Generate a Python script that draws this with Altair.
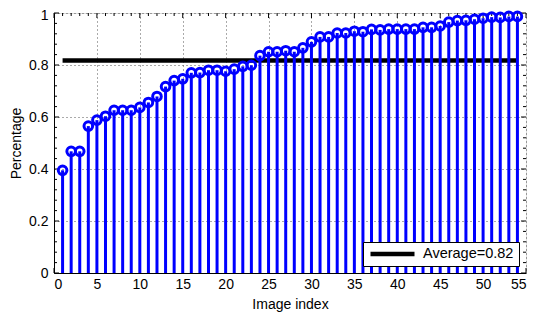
import altair as alt
import pandas as pd

# ---------------- data ----------------
image_index = list(range(1, 55))
percentage = [0.395, 0.468, 0.468, 0.565, 0.588, 0.603, 0.626, 0.626, 0.626, 0.637,
              0.656, 0.679, 0.717, 0.740, 0.747, 0.770, 0.771, 0.780, 0.780, 0.776,
              0.784, 0.795, 0.799, 0.836, 0.851, 0.851, 0.855, 0.851, 0.866, 0.889,
              0.908, 0.908, 0.923, 0.923, 0.930, 0.928, 0.937, 0.935, 0.938, 0.938,
              0.938, 0.938, 0.945, 0.945, 0.950, 0.965, 0.971, 0.972, 0.976, 0.980,
              0.984, 0.983, 0.987, 0.987]
average_value = 0.817
average_label = "Average=0.82"
average_from = 1
average_to = 54

x_ticks = [0, 5, 10, 15, 20, 25, 30, 35, 40, 45, 50, 55]
y_ticks = [0, 0.2, 0.4, 0.6, 0.8, 1.0]
x_minor = [1, 2, 3, 4, 6, 7, 8, 9, 11, 12, 13, 14, 16, 17, 18, 19, 21, 22, 23, 24,
           26, 27, 28, 29, 31, 32, 33, 34, 36, 37, 38, 39, 41, 42, 43, 44,
           46, 47, 48, 49, 51, 52, 53, 54]
y_minor = [0.04, 0.08, 0.12, 0.16, 0.24, 0.28, 0.32, 0.36, 0.44, 0.48, 0.52, 0.56,
           0.64, 0.68, 0.72, 0.76, 0.84, 0.88, 0.92, 0.96]

# ---------------- layout ----------------
W = 472
H = 260
FONT = "Liberation Sans"
BLUE = "#0000FF"

df = pd.DataFrame({"idx": image_index, "pct": percentage, "zero": [0] * len(image_index)})
df_avg = pd.DataFrame({"start": [average_from], "end": [average_to],
                       "avg": [average_value], "label": [average_label]})

xs = alt.Scale(domain=[0, 55], nice=False, zero=False)
ys = alt.Scale(domain=[0, 1], nice=False)

x_axis = alt.Axis(values=x_ticks, format="d", grid=True, gridDash=[1, 3], gridColor="#555",
                  gridWidth=1, tickSize=0, domain=True, domainColor="black", domainWidth=1,
                  labelFont=FONT, labelFontSize=14, labelColor="black", labelPadding=4,
                  title="Image index", titleFont=FONT, titleFontSize=14, titleFontWeight="normal",
                  titleColor="black", titleX=W / 2, titleY=35, titleBaseline="alphabetic",
                  titleAlign="center")
y_axis = alt.Axis(values=y_ticks, format="~g", grid=True, gridDash=[1, 3], gridColor="#555",
                  gridWidth=1, tickSize=0, domain=True, domainColor="black", domainWidth=1,
                  labelFont=FONT, labelFontSize=14, labelColor="black", labelPadding=6,
                  labelOffset={"condition": {"test": "datum.value == 1", "value": 2.5}, "value": 0},
                  title="Percentage", titleFont=FONT, titleFontSize=14, titleFontWeight="normal",
                  titleColor="black", titleX=-38, titleY=H / 2, titleAngle=270,
                  titleBaseline="middle", titleAlign="center")

avg_line = alt.Chart(df_avg).mark_rule(strokeWidth=4.5, strokeCap="butt").encode(
    x=alt.X("start:Q", scale=xs, axis=x_axis),
    x2="end:Q",
    y=alt.Y("avg:Q", scale=ys, axis=y_axis),
    color=alt.Color("label:N", scale=alt.Scale(range=["black"]),
                    legend=alt.Legend(title=None, orient="bottom-right", offset=7, padding=5,
                                      strokeColor="black", fillColor="white",
                                      symbolType="stroke", symbolSize=1936, clipHeight=14,
                                      symbolStrokeWidth=4.5, symbolStrokeColor="black",
                                      labelFont=FONT, labelFontSize=14.5, labelColor="black",
                                      labelOffset=6, cornerRadius=0)),
)

stems = alt.Chart(df).mark_rule(color=BLUE, strokeWidth=3).encode(
    x=alt.X("idx:Q", scale=xs, axis=x_axis),
    y=alt.Y("zero:Q", scale=ys, axis=y_axis),
    y2="pct:Q",
)

heads = alt.Chart(df).mark_point(shape="circle", filled=False, color=BLUE, strokeWidth=3,
                                 size=74, opacity=1).encode(
    x=alt.X("idx:Q", scale=xs, axis=x_axis),
    y=alt.Y("pct:Q", scale=ys, axis=y_axis),
)


def yticks(vals, x0, x1):
    return alt.Chart(pd.DataFrame({"v": vals})).mark_rule(color="black", strokeWidth=1).encode(
        y=alt.Y("v:Q", scale=ys, axis=y_axis), x=alt.value(x0), x2=alt.value(x1))


def xticks(vals, y0, y1):
    return alt.Chart(pd.DataFrame({"v": vals})).mark_rule(color="black", strokeWidth=1).encode(
        x=alt.X("v:Q", scale=xs, axis=x_axis), y=alt.value(y0), y2=alt.value(y1))


tick_layers = [
    yticks(y_ticks, 0, 5), yticks(y_minor, 0, 3),
    yticks(y_ticks, W, W - 5), yticks(y_minor, W, W - 3),
    xticks(x_ticks, H, H - 5), xticks(x_minor, H, H - 3),
    xticks(x_ticks, 0, 5), xticks(x_minor, 0, 3),
]

chart = alt.layer(avg_line, *tick_layers, stems, heads).properties(
    width=W, height=H,
    autosize=alt.AutoSizeParams(type="none"),
    padding={"left": 46, "top": 5, "right": 7, "bottom": 39},
).configure_view(stroke=None).configure(background="white")

chart.save("out.html", embed_options={"renderer": "svg", "actions": False})
